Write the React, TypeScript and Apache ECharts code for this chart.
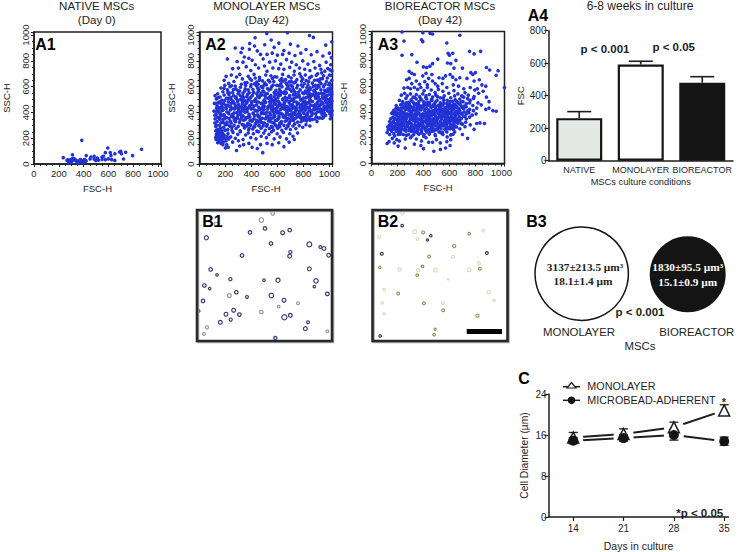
import React, { useEffect, useRef } from "react";
import * as echarts from "echarts";

const A1_POINTS = [[385,184],[236,49],[310,72],[595,124],[575,88],[615,88],[867,114],[795,65],[722,39],[739,91],[690,93],[700,98],[705,80],[652,80],[621,65],[626,34],[652,28],[600,40],[421,65],[459,54],[485,60],[511,47],[549,54],[549,36],[498,28],[485,38],[452,39],[575,34],[266,28],[272,33],[280,20],[285,10],[290,25],[295,35],[300,15],[305,28],[310,40],[315,45],[320,30],[325,40],[330,35],[340,28],[345,18],[355,10],[360,20],[365,15],[370,30],[375,35],[385,20],[395,25],[400,10],[410,30],[415,20],[420,25],[280,5],[290,8],[350,5],[405,35],[520,30],[560,60]];

const A2_POINTS = [[518,1013],[677,1018],[847,997],[877,982],[428,979],[972,922],[1018,948],[386,935],[552,962],[611,938],[502,925],[330,898],[275,900],[384,890],[424,915],[575,905],[650,880],[700,930],[758,915],[820,888],[905,872],[1000,860],[215,815],[320,865],[345,830],[380,820],[445,878],[470,850],[520,850],[560,860],[600,845],[640,850],[690,860],[735,842],[780,860],[860,848],[950,838],[1015,825],[290,795],[335,790],[405,805],[430,770],[490,815],[540,790],[585,800],[625,775],[670,810],[710,790],[745,770],[795,800],[835,775],[880,795],[925,765],[975,790],[1010,770],[255,740],[300,745],[360,755],[395,725],[455,745],[500,760],[520,720],[565,745],[610,740],[650,735],[695,750],[730,720],[770,745],[810,735],[850,725],[890,745],[935,735],[965,720],[1005,730],[190,650],[205,680],[225,625],[245,690],[265,640],[285,675],[310,695],[330,660],[350,630],[375,680],[400,650],[420,695],[440,635],[462,672],[485,645],[510,690],[530,650],[550,685],[572,640],[595,675],[620,650],[640,695],[662,655],[685,680],[708,640],[728,690],[750,655],[772,700],[795,660],[815,690],[840,640],[862,680],[885,650],[910,700],[930,660],[955,685],[978,640],[1000,690],[1018,650],
[165,590],[180,560],[195,610],[215,575],[235,600],[255,555],[275,605],[295,570],[315,595],[335,550],[355,610],[375,575],[395,600],[415,555],[435,610],[455,580],[475,600],[495,560],[515,615],[535,575],[555,600],[575,555],[595,610],[615,580],[635,600],[655,560],[675,615],[695,580],[715,600],[735,560],[755,610],[775,575],[795,600],[815,565],[835,615],[855,580],[875,600],[895,555],[915,610],[935,575],[955,600],[975,560],[995,615],[1015,585],
[120,530],[140,545],[130,505],[158,520],[172,495],[190,535],[208,510],[226,540],[244,500],[262,530],[280,510],[298,545],[316,500],[334,525],[352,490],[370,540],[388,510],[406,530],[424,495],[442,545],[460,515],[478,535],[496,495],[514,545],[532,510],[550,530],[568,490],[586,540],[604,515],[622,535],[640,500],[658,545],[676,510],[694,530],[712,495],[730,540],[748,520],[766,535],[784,500],[802,545],[820,515],[838,535],[856,495],[874,540],[892,515],[910,535],[928,500],[946,545],[964,515],[982,530],[1000,500],[1018,540],
[115,470],[135,450],[150,480],[168,440],[186,470],[204,455],[222,482],[240,445],[258,475],[276,450],[294,485],[312,440],[330,470],[348,455],[366,480],[384,445],[402,475],[420,450],[438,485],[456,440],[474,470],[492,455],[510,480],[528,445],[546,475],[564,450],[582,485],[600,440],[618,470],[636,455],[654,480],[672,445],[690,475],[708,450],[726,485],[744,440],[762,470],[780,455],[798,480],[816,445],[834,475],[852,450],[870,485],[888,440],[906,470],[924,455],[942,480],[960,445],[978,475],[996,450],[1015,470],
[112,410],[128,385],[142,425],[158,395],[174,415],[190,380],[206,430],[222,400],[238,420],[254,385],[270,428],[286,398],[302,418],[318,382],[334,430],[350,402],[366,422],[382,386],[398,428],[414,396],[430,416],[446,382],[462,432],[478,400],[494,420],[510,388],[526,428],[542,398],[558,418],[574,382],[590,430],[606,402],[622,422],[638,386],[654,428],[670,396],[686,416],[702,382],[718,432],[734,400],[750,420],[766,388],[782,428],[798,398],[814,418],[830,382],[846,430],[862,402],[878,422],[894,390],[910,428],[926,405],[942,420],[960,395],[980,425],[1005,410],[1018,380],
[120,350],[136,330],[150,362],[165,320],[180,345],[196,365],[212,325],[228,352],[244,318],[260,368],[276,335],[292,355],[308,322],[324,362],[340,340],[356,358],[372,315],[388,365],[404,332],[420,352],[436,320],[452,368],[468,338],[484,355],[500,318],[516,362],[532,335],[548,352],[564,322],[580,368],[596,340],[612,358],[628,315],[644,365],[660,332],[676,352],[692,322],[708,362],[724,338],[740,355],[756,325],[772,362],[788,345],[804,360],[825,335],[848,362],[870,345],[905,330],[945,355],
[125,290],[140,270],[155,300],[170,260],[186,285],[202,305],[218,268],[234,295],[250,262],[266,300],[282,275],[298,292],[314,258],[330,305],[346,280],[362,295],[378,265],[394,302],[410,272],[426,290],[442,255],[458,300],[474,278],[490,295],[506,262],[522,305],[538,275],[554,292],[570,262],[586,300],[602,278],[618,290],[634,262],[650,300],[666,275],[682,292],[700,268],[720,295],[742,275],[768,298],[795,285],[820,305],[850,295],
[130,230],[145,205],[160,240],[175,195],[190,225],[205,180],[220,238],[240,210],[258,245],[276,200],[295,230],[315,250],[335,190],[355,225],[375,240],[395,205],[415,235],[435,195],[455,250],[475,215],[495,240],[515,205],[535,230],[555,250],[575,195],[598,235],[620,210],[645,245],[670,195],[695,235],[720,215],[755,240],
[135,190],[150,175],[165,160],[180,150],[200,125],[222,130],[285,105],[310,140],[340,150],[380,160],[405,130],[445,120],[487,88],[470,150],[520,160],[560,150],[610,165],[650,135],[690,170],[730,190],[140,165],[155,195],[170,185],[185,170],[125,205],[210,150],[255,170],[300,180]];

const A2_DENSE = [[263,361],[417,287],[531,446],[612,372],[728,509],[843,416],[947,523],[1009,437],[181,417],[327,508],[476,391],[589,463],[703,338],[821,552],[934,461],[1012,509],[207,361],[349,289],[462,523],[578,311],[691,487],[806,392],[917,547],[1003,583],[233,447],[371,362],[483,472],[596,396],[709,564],[827,467],[941,398],[168,373],[296,431],[441,338],[553,507],[664,419],[782,328],[896,508],[987,411],[249,283],[386,452],[507,351],[621,536],[737,407],[853,521],[964,572],[193,493],[318,398],[452,564],[571,429],[683,353],[799,511],[908,442],[1021,413],[214,306],[339,513],[468,423],[603,348],[716,461],[834,398],[952,511],[272,467],[407,341],[524,586],[637,433],[751,367],[869,533],[983,469],[146,439],[287,358],[433,506],[549,381],[668,492],[785,419],[899,367],[1017,561],[226,391],[361,471],[491,317],[609,452],[722,536],[841,351],[959,437],[178,325],[309,566],[447,411],[562,282],[677,408],[793,553],[911,483],[1007,351],[241,518],[378,309],[499,447],[617,394],[733,311],[858,458],[973,527],[156,348],[301,462],[423,377],[541,484],[659,518],[771,408],[884,572],[998,486],[219,456],[353,345],[472,536],[584,337],[697,423],[813,486],[926,358],[1014,431],[199,262],[344,428],[458,297],[576,521],[689,381],[806,441],[921,598],[267,397],[393,518],[519,403],[631,329],[746,481],[863,376],[976,443],[133,408],[282,522],[411,431],[536,352],[651,466],[768,521],[888,421],[1003,541],[238,331],[367,405],[489,566],[607,486],[719,393],[837,571],[951,468],[172,462],[313,342],[439,459],[558,422],[672,339],[788,462],[903,511],[1019,488],[254,431],[383,279],[504,477],[626,561],[741,428],[851,339],[968,491],[188,318],[331,487],[461,368],[581,543],[699,459],[816,348],[931,429],[1011,396],[229,552],[358,438],[477,323],[594,412],[711,501],[829,439],[944,383],[161,386],[291,498],[418,553],[544,463],[663,377],[779,497],[894,463],[1008,462],[246,369],[375,497],[496,424],[613,303],[731,441],[848,498],[962,423],[203,438],[335,373],[453,481],[567,358],[686,436],[803,339],[916,521],[278,329],[402,461],[528,372],[643,506],[759,388],[877,451],[991,563],[152,427],[306,407],[429,309],[551,438],[669,553],[784,363],[907,403],[1016,521],[222,509],[364,523],[486,439],[599,287],[714,372],[836,521],[954,362],[183,381],[323,446],[448,528],[574,467],[692,313],[809,425],[924,491],[259,487],[389,338],[511,513],[627,393],[743,537],[861,412],[979,503],[211,403],[342,302],[466,352],[586,501],[704,411],[822,371],[939,549],[1013,369],[148,473],[297,379],[425,487],[547,329],[661,448],[776,382],[892,532],[999,438],[236,293],[371,431],[493,393],[608,531],[726,351],[844,478],[957,399],[176,439],[315,529],[441,411],[564,491],[679,301],[797,443],[913,357],[1006,507],[268,342],[399,484],[516,293],[634,447],[753,463],[871,392],[985,459],[194,351],[328,416],[456,327],[572,402],[694,518],[812,461],[928,407],[244,471],[381,372],[503,532],[619,317],[736,384],[855,541],[971,377],[139,362],[286,443],[413,392],[538,519],[655,361],[773,439],[889,349],[1002,393],[130,215],[146,225],[158,210],[172,225],[185,205],[128,190],[142,200],[155,232],[168,208],[198,200],[212,215],[225,195],[138,242],[152,255],[125,258],[162,278],[178,240],[195,262],[118,318],[130,302],[118,378],[132,433],[148,405],[128,470],[145,515],[160,478]];

const A2_UPPER = [[352,583],[423,623],[487,592],[541,637],[613,607],[669,582],[727,628],[783,613],[849,592],[908,651],[967,618],[1012,687],[397,617],[461,651],[503,628],[567,612],[633,663],[691,637],[749,592],[821,647],[893,611],[946,662],[1003,627],[383,553],[447,591],[522,547],[588,571],[643,553],[703,612],[761,557],[827,593],[881,567],[937,623],[989,583],[412,577],[473,549],[549,583],[607,553],[667,627],[722,577],[786,643],[843,557],[902,587],[958,547],[1009,612],[366,632],[429,667],[496,611],[561,663],[626,623],[681,598],[739,637],[806,623],[869,627],[925,639],[984,667],[1019,721],[941,707],[987,741],[899,688],[847,668],[782,678],[706,667],[643,642],[579,677],[451,619],[389,661],[322,619],[279,583],[247,607],[301,549],[218,553],[189,587],[348,566],[261,577]];

const A3_POINTS = [[235,1020],[395,1015],[450,1010],[470,1005],[680,995],[250,950],[385,960],[395,945],[580,935],[755,870],[840,870],[235,840],[310,845],[590,855],[600,840],[625,855],[790,850],[510,810],[650,800],[350,785],[470,775],[400,750],[450,755],[425,745],[585,780],[610,775],[635,740],[700,740],[885,745],[800,705],[780,690],[910,725],[290,715],[310,700],[330,690],[420,700],[395,680],[465,690],[520,665],[550,660],[570,680],[605,690],[625,670],[650,650],[680,665],[735,660],[765,705],[790,640],[830,650],[850,610],[880,600],[960,685],[975,720],[270,650],[290,660],[310,620],[345,640],[370,615],[410,635],[430,610],[440,660],[470,640],[490,620],[510,600],[545,620],[580,590],[630,610],[670,600],[710,580],[760,590],[795,570],[815,580],[860,560],[1024,590],[250,585],[280,590],[300,580],[330,590],[355,575],[380,590],[405,565],[430,590],[460,570],[490,550],[515,575],[550,560],[595,545],[635,565],[665,540],[695,525],[720,550],[745,530],[790,520],[825,545],[885,515],[905,480],[905,430],[935,410],[960,405],[230,530],[255,545],[275,525],[300,540],[320,515],[345,535],[370,520],[395,540],[420,525],[445,535],[470,515],[495,530],[530,510],[560,525],[610,510],[640,525],[680,500],[710,515],[760,490],[785,505],[820,470],[845,455],[880,420],[215,490],[240,480],[265,505],[285,475],[305,495],[325,470],[345,500],[365,480],[385,495],[405,470],[425,500],[445,475],[465,490],[485,465],[505,490],[530,470],[555,490],[580,465],[605,480],[630,460],[655,485],[680,460],[705,480],[730,465],[755,470],[780,450],[810,430],[190,450],[205,430],[225,455],[245,440],[260,460],[278,430],[296,450],[314,435],[332,458],[350,430],[368,452],[386,435],[404,458],[422,430],[440,452],[458,435],[476,455],[494,430],[512,450],[530,428],[548,452],[566,430],[584,448],[602,428],[620,450],[638,430],[656,445],[674,425],[692,445],[710,425],[730,440],[755,420],[785,410],[155,390],[170,410],[185,395],[200,415],[215,385],[230,405],[245,395],[260,415],[275,385],[290,410],[305,390],[320,415],[335,385],[350,408],[365,392],[380,415],[395,385],[410,408],[425,392],[440,415],[455,388],[470,408],[485,390],[500,412],[515,385],[530,405],[545,388],[560,410],[575,385],[590,405],[605,388],[620,410],[635,385],[650,405],[665,388],[680,408],[695,385],[712,400],[730,385],[750,395],[775,375],[805,385],[165,360],[180,345],[195,370],[210,350],[225,375],[240,345],[255,365],[270,350],[285,375],[300,345],[315,368],[330,350],[345,375],[360,345],[375,368],[390,352],[405,375],[420,345],[435,368],[450,350],[465,375],[480,345],[495,365],[510,350],[525,372],[540,345],[555,365],[570,350],[585,372],[600,345],[615,365],[630,352],[645,372],[660,345],[675,365],[692,350],[710,368],[730,345],[755,360],[835,315],[870,310],[140,325],[155,305],[170,330],[185,310],[200,335],[215,305],[230,325],[245,310],[260,335],[275,305],[290,328],[305,312],[320,335],[335,305],[350,328],[365,312],[380,335],[395,305],[410,328],[425,312],[440,335],[455,305],[470,328],[485,312],[500,335],[515,305],[530,325],[545,310],[560,332],[575,305],[590,325],[605,310],[620,332],[635,305],[650,325],[665,312],[680,330],[700,305],[725,320],[760,300],[810,310],[125,285],[145,265],[160,290],[175,270],[190,295],[205,265],[220,285],[235,270],[250,295],[265,265],[280,288],[295,272],[310,295],[325,265],[340,288],[355,272],[370,295],[385,265],[400,288],[415,272],[430,295],[445,265],[460,288],[475,272],[490,295],[505,265],[520,285],[535,270],[550,292],[565,265],[580,285],[595,270],[610,292],[630,265],[650,285],[680,270],[720,285],[790,265],[120,240],[140,225],[155,250],[172,230],[190,250],[205,225],[225,245],[245,225],[265,250],[285,225],[305,248],[325,225],[345,245],[365,228],[385,250],[405,225],[425,245],[445,228],[465,250],[490,225],[520,245],[550,225],[580,245],[610,222],[640,245],[700,225],[740,195],[120,155],[135,170],[160,195],[175,160],[195,185],[215,175],[260,190],[300,200],[345,190],[385,175],[420,200],[470,165],[500,185],[530,160],[580,170],[610,185],[205,135],[260,120],[330,150],[380,140],[400,115],[480,95],[530,110],[570,120],[605,140],[440,165]];

const A3_DENSE = [[217,337],[263,281],[311,402],[358,259],[402,361],[447,297],[493,443],[538,359],[583,287],[629,421],[672,337],[193,273],[241,358],[287,417],[332,283],[379,437],[423,323],[469,383],[513,278],[557,467],[603,353],[648,399],[691,308],[227,427],[272,318],[318,253],[363,389],[409,277],[451,347],[497,407],[542,298],[588,391],[634,281],[208,302],[254,389],[299,357],[344,461],[391,318],[436,403],[481,252],[526,439],[571,317],[616,357],[659,432],[176,351],[222,262],[268,442],[313,377],[357,297],[403,479],[448,369],[492,293],[537,377],[582,413],[627,298],[181,289],[229,383],[276,293],[322,351],[368,423],[413,261],[458,403],[503,323],[547,242],[593,437],[637,349],[198,391],[244,311],[291,463],[336,327],[383,373],[427,287],[473,347],[517,419],[562,367],[608,271],[651,378],[213,357],[258,427],[303,269],[349,403],[394,331],[439,261],[484,413],[529,298],[574,393],[619,339],[162,317],[209,248],[256,331],[302,383],[347,277],[393,447],[437,351],[482,307],[528,367],[573,271],[617,431],[663,323],[187,427],[234,292],[279,369],[326,437],[371,307],[417,383],[461,271],[507,343],[551,403],[597,317],[642,461],[203,321],[249,263],[294,409],[341,361],[386,237],[431,473],[477,317],[521,361],[567,431],[612,383],[655,283],[169,267],[218,413],[264,351],[309,287],[354,441],[399,363],[444,307],[489,377],[534,241],[579,333],[624,483],[178,383],[226,307],[272,467],[317,367],[362,281],[407,421],[452,323],[497,263],[542,423],[587,359],[632,327],[195,343],[242,433],[288,311],[333,247],[378,343],[424,453],[468,297],[514,393],[559,309],[604,451],[648,351],[211,281],[256,373],[301,437],[347,347],[392,283],[438,387],[483,341],[527,457],[572,291],[617,401],[148,287],[197,419],[243,361],[289,257],[335,413],[381,297],[426,367],[471,443],[516,277],[561,391],[606,333],[684,392],[700,432],[720,363],[738,407],[668,408],[690,478],[715,445],[740,503],[665,472],[268,471],[312,483],[358,468],[402,447],[448,461],[492,477],[538,449],[583,491],[628,441],[332,513],[378,503],[418,512],[462,497],[508,519],[552,507],[598,463],[645,495],[236,463],[282,441],[148,347],[138,298],[163,395],[128,263],[178,213],[222,227],[268,218],[312,213],[358,234],[402,211],[448,239],[492,215],[538,238],[583,207],[628,227]];

const A4_CATEGORIES = ["NATIVE", "MONOLAYER", "BIOREACTOR"];
const A4_VALUES = [262, 592, 480];
const A4_ERROR_TOPS = [302, 612, 517];
const A4_COLORS = ["#e5e9e6", "#ffffff", "#141414"];

const C_DAYS = [14, 21, 28, 35];
const C_MONOLAYER = [15.5, 16.2, 17.5, 20.8];
const C_MONOLAYER_TOP = [16.5, 17.2, 18.5, 21.9];
const C_MONOLAYER_LOW = [14.5, 15.2, 16.5, 19.9];
const C_BEAD = [14.9, 15.4, 16, 14.8];
const C_BEAD_TOP = [15.5, 16, 17, 15.6];
const C_BEAD_LOW = [14.3, 14.8, 15, 14];

// [x, y, ring size] in the micrograph's own units
const B1_BLUE = [[48,98,11],[179,82,9],[224,70,9],[277,83,10],[298,75,9],[242,115,9],[357,118,13],[401,130,10],[415,150,10],[300,141,8],[298,153,10],[155,151,9],[357,191,10],[61,193,9],[120,222,8],[263,225,11],[377,227,12],[42,241,9],[411,266,9],[138,261,9],[243,271,12],[281,285,10],[38,287,9],[130,315,10],[107,327,10],[147,328,9],[300,330,10],[282,336,14],[121,343,8],[90,351,10],[353,351,7],[345,370,10],[255,398,8],[25,317,6]];
const B1_DARK = [[390,126,7],[80,209,6],[221,225,6],[58,250,6],[372,244,6],[170,275,7]];
const B1_GRAY = [[213,45,12],[247,25,9],[77,58,11],[117,271,10],[323,294,7],[265,304,6],[213,320,9],[50,366,8],[41,386,7],[411,378,7]];
const B2_DARK = [[637,62,6],[576,146,7],[891,144,7],[571,392,6],[723,92,6],[713,105,5]];
const B2_OLIVE = [[700,82,7],[838,86,6],[793,123,8],[718,154,7],[570,187,6],[698,184,6],[870,191,7],[625,265,7],[702,294,7],[760,315,7],[863,331,8],[736,372,5],[733,388,6],[682,210,6]];
const B2_LIGHT = [[638,25,8],[568,95,7],[675,80,11],[683,102,6],[880,77,6],[790,155,7],[685,195,8],[737,195,9],[838,194,10],[867,174,7],[583,254,7],[897,261,9],[913,285,6],[759,293,7],[577,293,6],[583,325,6],[630,193,8],[775,222,3]];

const SCATTER_BLUE = "#2232d6";
const INK = "#1e1e1e";
const FONT = '"Liberation Sans", Arial, sans-serif';
const SERIF = '"Liberation Serif", "Times New Roman", serif';

const txt = (text: string, x: number, y: number, fontSize: number, extra: any = {}) => ({
  type: "text",
  x,
  y,
  silent: true,
  z: 50,
  style: { text, fontSize, fontFamily: FONT, fill: INK, align: "center", verticalAlign: "middle", ...extra },
});

const scatterGrid = (left: number, width: number, top: number, height: number) => ({ left, width, top, height, show: true, borderColor: INK, borderWidth: 1.5, backgroundColor: "#fff" });

const flowAxis = (gridIndex: number, name: string, vertical: boolean) => ({
  type: "value",
  gridIndex,
  min: 0,
  max: 1024,
  interval: 200,
  name,
  nameLocation: "middle",
  nameGap: vertical ? 23 : 19,
  nameRotate: vertical ? 90 : 0,
  nameTextStyle: { fontSize: 9.5, fontFamily: FONT, color: INK },
  splitLine: { show: false },
  axisLine: { show: true, onZero: false, lineStyle: { color: INK, width: 1.5 } },
  axisTick: { show: true, length: 3, lineStyle: { color: INK, width: 1 } },
  minorTick: { show: true, splitNumber: 4, length: 2, lineStyle: { color: INK, width: 1 } },
  axisLabel: { fontSize: 9.5, fontFamily: FONT, color: INK, margin: 4, rotate: vertical ? 90 : 0, showMaxLabel: false, formatter: (v: number) => String(v) },
});

const hiddenAxis = (gridIndex: number, min: number, max: number, inverse: boolean) => ({ type: "value", gridIndex, min, max, inverse, show: false, splitLine: { show: false } });

const flowSeries = (i: number, data: number[][]) => ({ type: "scatter", xAxisIndex: i, yAxisIndex: i, data, symbol: "circle", symbolSize: 3.6, itemStyle: { color: SCATTER_BLUE, opacity: 1 }, silent: true, large: false });

const ringSeries = (i: number, data: number[][], color: string, opacity = 1) => ({
  type: "scatter",
  xAxisIndex: i,
  yAxisIndex: i,
  data,
  symbol: "circle",
  symbolSize: (v: number[]) => v[2] / 3 + 0.5,
  itemStyle: { color: "transparent", borderColor: color, borderWidth: 1.2, opacity },
  silent: true,
});

const errorSeries = (xAxisIndex: number, rows: number[][], cap: number, lineWidth: number, z: number) => ({
  type: "custom",
  xAxisIndex,
  yAxisIndex: xAxisIndex,
  data: rows,
  z,
  silent: true,
  renderItem: (_: any, api: any) => {
    const a = api.coord([api.value(0), api.value(1)]);
    const b = api.coord([api.value(0), api.value(2)]);
    const lineStyle = { stroke: INK, lineWidth };
    const children: any[] = [
      { type: "line", shape: { x1: a[0], y1: a[1], x2: b[0], y2: b[1] }, style: lineStyle },
      { type: "line", shape: { x1: b[0] - cap, y1: b[1], x2: b[0] + cap, y2: b[1] }, style: lineStyle },
    ];
    if (api.value(3)) {
      children.push({ type: "line", shape: { x1: a[0] - cap, y1: a[1], x2: a[0] + cap, y2: a[1] }, style: lineStyle });
    }
    return { type: "group", children };
  },
});

function buildOption() {
  const monoRows = C_DAYS.map((d, i) => [d, C_MONOLAYER_LOW[i], C_MONOLAYER_TOP[i], 1]);
  const beadRows = C_DAYS.map((d, i) => [d, C_BEAD_LOW[i], C_BEAD_TOP[i], 1]);
  const monoLine = C_DAYS.map((d, i) => [d, C_MONOLAYER[i]]);
  const beadLine = C_DAYS.map((d, i) => [d, C_BEAD[i]]);

  return {
    animation: false,
    backgroundColor: "#fff",
    grid: [
      scatterGrid(28.7, 132.3, 32, 132),
      scatterGrid(199.5, 133, 32, 132),
      scatterGrid(371.5, 133, 31.5, 132),
      { left: 548.5, width: 184.5, top: 30.7, height: 130 },
      { left: 548.5, width: 180, top: 394, height: 127.7 },
      { left: 197, width: 135, top: 210, height: 131 },
      { left: 372.5, width: 135, top: 210, height: 131 },
    ],
    xAxis: [
      flowAxis(0, "FSC-H", false),
      flowAxis(1, "FSC-H", false),
      flowAxis(2, "FSC-H", false),
      {
        type: "category",
        gridIndex: 3,
        data: A4_CATEGORIES,
        axisTick: { show: false },
        axisLine: { lineStyle: { color: INK, width: 1.5 } },
        axisLabel: { fontSize: 9, fontFamily: FONT, color: INK, margin: 5, interval: 0 },
        name: "MSCs culture conditions",
        nameLocation: "middle",
        nameGap: 17,
        nameTextStyle: { fontSize: 9.3, fontFamily: FONT, color: INK },
      },
      {
        type: "value",
        gridIndex: 4,
        min: 10.56,
        max: 35.6,
        splitLine: { show: false },
        axisLine: { lineStyle: { color: INK, width: 1.5 } },
        axisTick: { length: 4, lineStyle: { color: INK, width: 1.2 }, customValues: C_DAYS },
        axisLabel: { fontSize: 10, fontFamily: FONT, color: INK, margin: 6, customValues: C_DAYS },
        name: "Days in culture",
        nameLocation: "middle",
        nameGap: 23,
        nameTextStyle: { fontSize: 10.5, fontFamily: FONT, color: INK },
      },
      hiddenAxis(5, 20, 425, false),
      hiddenAxis(6, 548, 953, false),
    ],
    yAxis: [
      flowAxis(0, "SSC-H", true),
      flowAxis(1, "SSC-H", true),
      flowAxis(2, "SSC-H", true),
      {
        type: "value",
        gridIndex: 3,
        min: 0,
        max: 800,
        interval: 200,
        splitLine: { show: false },
        axisLine: { show: true, lineStyle: { color: INK, width: 1.5 } },
        axisTick: { show: true, length: 4, lineStyle: { color: INK, width: 1.2 } },
        axisLabel: { fontSize: 10, fontFamily: FONT, color: INK, margin: 2 },
        name: "FSC",
        nameLocation: "middle",
        nameGap: 23,
        nameTextStyle: { fontSize: 9.5, fontFamily: FONT, color: INK },
      },
      {
        type: "value",
        gridIndex: 4,
        min: 0,
        max: 24,
        interval: 8,
        splitLine: { show: false },
        axisLine: { show: true, lineStyle: { color: INK, width: 1.5 } },
        axisTick: { show: true, length: 4, lineStyle: { color: INK, width: 1.2 } },
        axisLabel: { fontSize: 10, fontFamily: FONT, color: INK, margin: 2 },
        name: "Cell Diameter (\u00b5m)",
        nameLocation: "middle",
        nameGap: 19,
        nameTextStyle: { fontSize: 10.3, fontFamily: FONT, color: INK },
      },
      hiddenAxis(5, 15, 407, true),
      hiddenAxis(6, 15, 407, true),
    ],
    series: [
      flowSeries(0, A1_POINTS),
      flowSeries(1, A2_POINTS),
      flowSeries(1, A2_DENSE),
      flowSeries(1, A2_UPPER),
      flowSeries(2, A3_POINTS),
      flowSeries(2, A3_DENSE),
      errorSeries(3, A4_VALUES.map((v, i) => [i, v, A4_ERROR_TOPS[i], 0]), 12, 1.6, 1),
      {
        type: "bar",
        xAxisIndex: 3,
        yAxisIndex: 3,
        barWidth: 46,
        z: 2,
        silent: true,
        data: A4_VALUES.map((value, i) => ({ value, itemStyle: { color: A4_COLORS[i], borderColor: "#141414", borderWidth: 2.2 } })),
      },
      { type: "line", xAxisIndex: 4, yAxisIndex: 4, data: monoLine, symbol: "none", lineStyle: { color: INK, width: 2 }, z: 2, silent: true },
      { type: "line", xAxisIndex: 4, yAxisIndex: 4, data: beadLine, symbol: "none", lineStyle: { color: INK, width: 2 }, z: 2, silent: true },
      { type: "scatter", xAxisIndex: 4, yAxisIndex: 4, data: monoLine, symbol: "circle", symbolSize: 20, itemStyle: { color: "#fff", opacity: 1 }, z: 3, silent: true },
      { type: "scatter", xAxisIndex: 4, yAxisIndex: 4, data: beadLine, symbol: "circle", symbolSize: 20, itemStyle: { color: "#fff", opacity: 1 }, z: 3, silent: true },
      errorSeries(4, monoRows, 4.5, 1.3, 4),
      errorSeries(4, beadRows, 4.5, 1.3, 4),
      { type: "scatter", xAxisIndex: 4, yAxisIndex: 4, data: monoLine, symbol: "triangle", symbolSize: 11, itemStyle: { color: "#fff", borderColor: INK, borderWidth: 1.5, opacity: 1 }, z: 5, silent: true },
      { type: "scatter", xAxisIndex: 4, yAxisIndex: 4, data: beadLine, symbol: "circle", symbolSize: 10, itemStyle: { color: "#141414", opacity: 1 }, z: 6, silent: true },
      ringSeries(5, B1_BLUE, "#3b3f78"),
      ringSeries(5, B1_DARK, "#44465a"),
      ringSeries(5, B1_GRAY, "#9a9c98"),
      ringSeries(6, B2_DARK, "#4a3a48"),
      ringSeries(6, B2_OLIVE, "#8e9a60"),
      ringSeries(6, B2_LIGHT, "#dcdcc0"),
    ],
    graphic: [
      txt("NATIVE MSCs", 96.7, 6, 11.5),
      txt("(Day 0)", 96.7, 20, 11.5),
      txt("MONOLAYER MSCs", 266.7, 6, 11.5),
      txt("(Day 42)", 266.7, 20, 11.5),
      txt("BIOREACTOR MSCs", 440, 6, 11.5),
      txt("(Day 42)", 440, 20, 11.5),
      txt("6-8 weeks in culture", 640, 6, 12),
      txt("A1", 45.5, 44, 16, { fontWeight: "bold", fill: "#000" }),
      txt("A2", 215.5, 44, 16, { fontWeight: "bold", fill: "#000" }),
      txt("A3", 388, 44, 16, { fontWeight: "bold", fill: "#000" }),
      txt("A4", 538, 15, 16, { fontWeight: "bold", fill: "#000" }),
      txt("B1", 212.5, 221.7, 16, { fontWeight: "bold", fill: "#000" }),
      txt("B2", 388, 221.7, 16, { fontWeight: "bold", fill: "#000" }),
      txt("B3", 536.5, 221.7, 16, { fontWeight: "bold", fill: "#000" }),
      txt("C", 524, 378, 16, { fontWeight: "bold", fill: "#000" }),
      txt("p < 0.001", 605, 49.3, 11.5, { fontWeight: "bold" }),
      txt("p < 0.05", 673.7, 46.7, 11.5, { fontWeight: "bold" }),
      { type: "rect", z: 39, silent: true, shape: { x: 198, y: 211, width: 135, height: 131 }, style: { fill: "none", stroke: "#a8acac", lineWidth: 2.6 } },
      { type: "rect", z: 39, silent: true, shape: { x: 373.5, y: 211, width: 135, height: 131 }, style: { fill: "none", stroke: "#a8acac", lineWidth: 2.6 } },
      { type: "rect", z: 40, silent: true, shape: { x: 197, y: 210, width: 135, height: 131 }, style: { fill: "none", stroke: "#262a2a", lineWidth: 2.6 } },
      { type: "rect", z: 40, silent: true, shape: { x: 372.5, y: 210, width: 135, height: 131 }, style: { fill: "none", stroke: "#262a2a", lineWidth: 2.6 } },
      { type: "rect", z: 41, silent: true, shape: { x: 466.7, y: 329, width: 35.3, height: 5 }, style: { fill: "#000" } },
      { type: "circle", z: 30, silent: true, shape: { cx: 581.7, cy: 273.7, r: 46.7 }, style: { fill: "#fff", stroke: "#141414", lineWidth: 1.5 } },
      { type: "circle", z: 30, silent: true, shape: { cx: 687.7, cy: 274.3, r: 38 }, style: { fill: "#141414" } },
      txt("3137\u00b1213.5 \u00b5m\u00b3", 585, 266.5, 11.3, { fontFamily: SERIF, fontWeight: "bold" }),
      txt("18.1\u00b11.4 \u00b5m", 583, 281, 11.3, { fontFamily: SERIF, fontWeight: "bold" }),
      txt("1830\u00b195.5 \u00b5m\u00b3", 687.7, 267, 11.3, { fontFamily: SERIF, fontWeight: "bold", fill: "#fff" }),
      txt("15.1\u00b10.9 \u00b5m", 687.7, 281.5, 11.3, { fontFamily: SERIF, fontWeight: "bold", fill: "#fff" }),
      txt("p < 0.001", 640, 311.7, 11.5, { fontWeight: "bold" }),
      txt("MONOLAYER", 579, 331.7, 11.4),
      txt("BIOREACTOR", 696.7, 331.7, 11.4),
      txt("MSCs", 640, 346, 11.4),
      { type: "line", z: 30, silent: true, shape: { x1: 563, y1: 386.7, x2: 580, y2: 386.7 }, style: { stroke: INK, lineWidth: 1.5 } },
      { type: "polygon", z: 31, silent: true, shape: { points: [[571.5, 382.5], [576, 388], [567, 388]] }, style: { fill: "#fff", stroke: INK, lineWidth: 1.2 } },
      txt("MONOLAYER", 587.3, 386, 10.8, { align: "left" }),
      { type: "line", z: 30, silent: true, shape: { x1: 563, y1: 400.3, x2: 580, y2: 400.3 }, style: { stroke: INK, lineWidth: 1.5 } },
      { type: "circle", z: 31, silent: true, shape: { cx: 571.5, cy: 400.3, r: 3.8 }, style: { fill: "#141414" } },
      txt("MICROBEAD-ADHERENT", 587.3, 400.3, 10.8, { align: "left" }),
      txt("*", 724, 402, 10, { fontWeight: "bold" }),
      txt("*p < 0.05", 699.7, 512.5, 11.5, { fontWeight: "bold" }),
    ],
  };
}

export default function App() {
  const ref = useRef<HTMLDivElement | null>(null);
  useEffect(() => {
    const chart = echarts.init(ref.current!, null, { renderer: "svg" });
    chart.setOption(buildOption() as any);
    return () => chart.dispose();
  }, []);
  return <div ref={ref} style={{ width: 741, height: 552, position: "absolute", left: 0, top: 0 }} />;
}
